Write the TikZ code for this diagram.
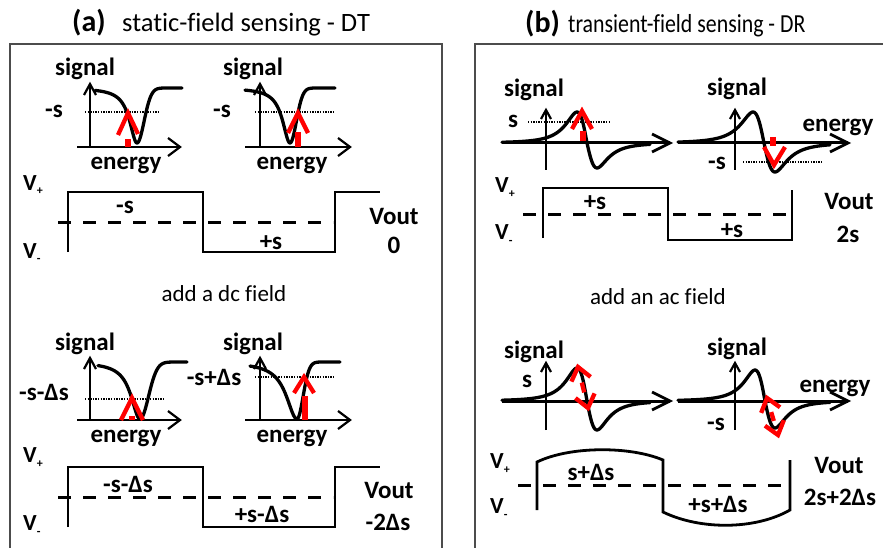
\documentclass[tikz,border=0pt]{standalone}
\usepackage{fontspec}
\setmainfont{Carlito}[Ligatures=NoCommon]
\usepackage{graphicx}
\usetikzlibrary{calc}
\tikzset{
  lbl/.style={font=\bfseries\fontsize{25}{25}\selectfont, inner sep=0pt, anchor=base},
  vlbl/.style={font=\bfseries\fontsize{23}{23}\selectfont, inner sep=0pt, anchor=base west},
  ttl/.style={inner sep=0pt, anchor=base west},
  curve/.style={line width=3.3pt, line join=round, line cap=round},
  thinaxis/.style={line width=1.2pt},
  thickaxis/.style={line width=3pt},
  chev/.style={line width=2.2pt, line join=miter},
  bchev/.style={line width=2.8pt, line join=miter},
  wave/.style={line width=2.8pt, line join=miter},
  midline/.style={line width=3pt, dash pattern=on 13pt off 12pt},
  dots/.style={line width=1.2pt, dash pattern=on 1.3pt off 1.3pt},
  redarr/.style={draw=red, line width=4.3pt, line join=miter},
  redstem/.style={draw=red, line width=5.5pt},
  panel/.style={line width=1.5pt, draw=black!70},
}
% y axis: x, ytop, ybot, half width, back
\newcommand\myyaxis[5]{%
  \draw[thinaxis] (#1,#3) -- (#1,#2);
  \draw[chev] (#1-#4,#2+#5) -- (#1,#2) -- (#1+#4,#2+#5);}
% x axis: y, xleft, xright, style, chev style, half height, back
\newcommand\myxaxis[7]{%
  \draw[#4] (#2,#1) -- (#3,#1);
  \draw[#5] (#3-#7,#1-#6) -- (#3,#1) -- (#3-#7,#1+#6);}
% dip curve: xmin,xmax,base,depth,centre,left lorentz width,right gauss width
\newcommand\mydip[7]{%
  \draw[curve] plot[domain=#1:#2, samples=140, variable=\t]
   ({\t}, {#3 + #4*ifthenelse(\t<#5, 1/(1+((\t-#5)/#6)^2), exp(-min(((\t-#5)/#7)^2,20)))});}
% dispersive curve: xmin,xmax,base,centre,width,amp up,amp down
\newcommand\mydisp[7]{%
  \draw[curve] plot[domain=#1:#2, samples=160, variable=\t]
   ({\t}, {#3 - ifthenelse(\t<#4, #6, #7)*(-2*((\t-#4)/#5)/(1+((\t-#4)/#5)^2)^2)/0.6495});}
% red double arrow between named coordinates
\newcommand\mydbl[2]{%
  \draw[redarr] ($(#1)!16pt!38:(#2)$) -- (#1) -- ($(#1)!16pt!-38:(#2)$);
  \draw[redarr] ($(#2)!16pt!38:(#1)$) -- (#2) -- ($(#2)!16pt!-38:(#1)$);
  \draw[redarr] ($(#1)!0.38!(#2)$) -- ($(#1)!0.62!(#2)$);}
\newcommand\mysub[1]{\raisebox{-5pt}{\fontsize{12}{12}\selectfont #1}}
\begin{document}
\begin{tikzpicture}[x=1pt, y=-1pt]
\useasboundingbox (0,0) rectangle (883,548);
\fill[white] (0,0) rectangle (883,548);

% panels
\draw[panel] (10,548) -- (10,44) -- (442,44) -- (442,548);
\draw[panel] (475,548) -- (475,44) -- (883,44);

% titles
\node[ttl] (ta1) at (72,32) {\fontsize{30}{30}\selectfont\bfseries (a)};
\node[ttl] (ta2) at (122,32) {\fontsize{26.5}{26.5}\selectfont static-field sensing - DT};
\node[ttl] (tb1) at (525,33) {\fontsize{30}{30}\selectfont\bfseries (b)};
\node[ttl] (tb2) at (568,33) {\scalebox{0.84}[1]{\fontsize{26}{26}\selectfont transient-field sensing - DR}};

% ===== panel a, top =====
% G1
\myyaxis{90}{84}{147}{6}{11}
\myxaxis{147}{77}{180}{thinaxis}{chev}{9}{12}
\draw[dots] (85,112) -- (160,112);
\mydip{95}{182}{88}{55}{137}{9}{10}
\draw[redstem] (128,139) -- (128,147);
\draw[redarr] (118,135) -- (128,113) -- (138,134);
\node[lbl] (sg1) at (85,76) {signal};
\node[lbl] (ms1) at (54,118) {-s};
\node[lbl] (en1) at (126,170) {energy};
% G2
\myyaxis{260}{84}{147}{6}{11}
\myxaxis{147}{245}{350}{thinaxis}{chev}{9}{12}
\draw[dots] (255,112) -- (335,112);
\mydip{245}{335}{88}{55}{290}{9}{9}
\draw[redstem] (298,132) -- (298,147);
\draw[redarr] (288,133) -- (298,113) -- (308,133);
\node[lbl] (sg2) at (253,76) {signal};
\node[lbl] (ms2) at (222,118) {-s};
\node[lbl] (en2) at (292,170) {energy};
% wave 1
\draw[midline] (58,222) -- (333,222);
\draw[wave] (68,252) -- (68,192) -- (203,192) -- (203,252) -- (335,252) -- (335,192) -- (380,192);
\node[vlbl] (vp1) at (23,190) {V\mysub{+}};
\node[vlbl] (vm1) at (23,258) {V\mysub{-}};
\node[lbl] (w1a) at (125,213) {-s};
\node[lbl] (w1b) at (271,249) {+s};
\node[lbl] (vo1) at (394,225) {Vout};
\node[lbl] (vo1v) at (394,253) {0};

\node[ttl, anchor=base] (dc) at (224,301) {\fontsize{23}{23}\selectfont add a dc field};

% ===== panel a, bottom =====
% G3
\myyaxis{90}{358}{420}{6}{11}
\myxaxis{420}{77}{180}{thinaxis}{chev}{9}{12}
\draw[dots] (85,399) -- (165,399);
\mydip{98}{187}{362}{57}{140}{10.9}{12}
\draw[redstem] (132,416) -- (132,420);
\draw[redarr] (121,420) -- (132,398) -- (143,420);
\node[lbl] (sg3) at (85,350) {signal};
\node[lbl] (ms3) at (44,400) {-s-Δs};
\node[lbl] (en3) at (126,442) {energy};
% G4
\myyaxis{260}{358}{420}{6}{11}
\myxaxis{420}{245}{350}{thinaxis}{chev}{9}{12}
\draw[dots] (255,377) -- (335,377);
\mydip{250}{340}{362}{57}{297}{13}{8.6}
\draw[redstem] (305,396) -- (305,420);
\draw[redarr] (294,393) -- (304,377) -- (314,393);
\node[lbl] (sg4) at (253,350) {signal};
\node[lbl] (ms4) at (214,385) {-s+Δs};
\node[lbl] (en4) at (292,442) {energy};
% wave 2
\draw[midline] (58,497) -- (333,497);
\draw[wave] (68,527) -- (68,467) -- (203,467) -- (203,527) -- (335,527) -- (335,467) -- (380,467);
\node[vlbl] (vp2) at (23,462) {V\mysub{+}};
\node[vlbl] (vm2) at (23,530) {V\mysub{-}};
\node[lbl] (w2a) at (128,492) {-s-Δs};
\node[lbl] (w2b) at (262,522) {+s-Δs};
\node[lbl] (vo2) at (389,498) {Vout};
\node[lbl] (vo2v) at (388,530) {-2Δs};

% ===== panel b, top =====
% G5
\myyaxis{546}{110}{170}{5}{9}
\myxaxis{143}{502}{670}{thickaxis}{bchev}{9}{18}
\draw[dots] (528,122) -- (610,122);
\mydisp{502}{650}{143}{587}{17.3}{31}{25}
\draw[redstem] (583,131) -- (583,141);
\draw[redarr] (572,129) -- (582,111) -- (592,129);
\node[lbl] (sg5) at (534,97) {signal};
\node[lbl] (ps5) at (513,128) {s};
% G6
\myyaxis{735}{110}{170}{5}{9}
\myxaxis{143}{678}{848}{thickaxis}{bchev}{9}{18}
\draw[dots] (743,162) -- (822,162);
\mydisp{678}{830}{143}{764}{19}{31}{29}
\draw[redstem] (773,137) -- (773,146);
\draw[redarr] (764,147) -- (774,165) -- (785,147);
\node[lbl] (sg6) at (737,96) {signal};
\node[lbl] (en6) at (838,132) {energy};
\node[lbl] (ms6) at (717,170) {-s};
% wave 3
\draw[midline] (523,214) -- (797,214);
\draw[wave] (543,238) -- (543,188) -- (668,188) -- (668,240) -- (792,240) -- (792,190);
\node[vlbl] (vp3) at (495,193) {V\mysub{+}};
\node[vlbl] (vm3) at (495,240) {V\mysub{-}};
\node[lbl] (w3a) at (595,210) {+s};
\node[lbl] (w3b) at (732,237) {+s};
\node[lbl] (vo3) at (849,210) {Vout};
\node[lbl] (vo3v) at (848,242) {2s};

\node[ttl, anchor=base] (ac) at (658,304) {\fontsize{23}{23}\selectfont add an ac field};

% ===== panel b, bottom =====
% G7
\myyaxis{546}{363}{430}{5}{9}
\myxaxis{401}{502}{670}{thickaxis}{bchev}{9}{18}
\mydisp{502}{650}{401}{587}{17.3}{33}{29}
\coordinate (t7) at (578,367);
\coordinate (b7) at (588,408);
\mydbl{t7}{b7}
\node[lbl] (sg7) at (534,358) {signal};
\node[lbl] (ps7) at (527,387) {s};
% G8
\myyaxis{735}{363}{430}{5}{9}
\myxaxis{401}{678}{848}{thickaxis}{bchev}{9}{18}
\mydisp{678}{830}{401}{765}{17.3}{31}{27}
\coordinate (t8) at (767,398);
\coordinate (b8) at (778,435);
\mydbl{t8}{b8}
\node[lbl] (sg8) at (737,355) {signal};
\node[lbl] (en8) at (835,392) {energy};
\node[lbl] (ms8) at (716,430) {-s};
% wave 4
\draw[midline] (518,485) -- (785,485);
\draw[wave] (537,510) -- (537,462) .. controls (570,446) and (630,446) .. (663,460)
  -- (663,512) .. controls (700,530) and (755,530) .. (790,510) -- (790,460);
\node[vlbl] (vp4) at (490,468) {V\mysub{+}};
\node[vlbl] (vm4) at (490,513) {V\mysub{-}};
\node[lbl] (w4a) at (591,480) {s+Δs};
\node[lbl] (w4b) at (718,512) {+s+Δs};
\node[lbl] (vo4) at (839,473) {Vout};
\node[lbl] (vo4v) at (840,505) {2s+2Δs};
\end{tikzpicture}
\end{document}
